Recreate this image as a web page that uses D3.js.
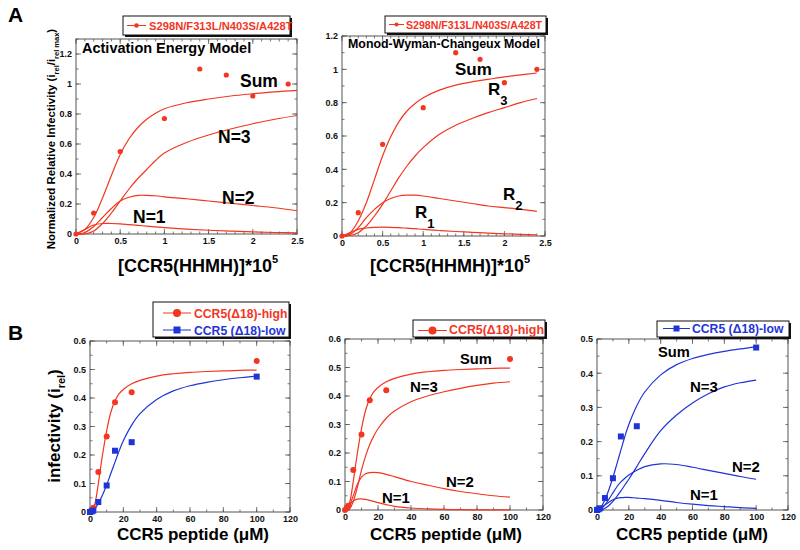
<!DOCTYPE html>
<html><head><meta charset="utf-8">
<script src="https://cdn.jsdelivr.net/npm/d3@7"></script>
<style>body{margin:0;background:#fff}svg{display:block}text{font-family:"Liberation Sans",Arial,Helvetica,sans-serif;font-weight:bold}</style>
</head><body><svg id="c" width="800" height="550"></svg>
<script>
// ---------- DATA ----------
// Panel A data (S298N/F313L/N403S/A428T)
const aPointX = [0, 0.2, 0.5, 1, 1.4, 1.7, 2, 2.4];
const aPointY = [0, 0.14, 0.55, 0.77, 1.1, 1.06, 0.92, 1.0];
// Activation energy model curves
const aeX    = [0,0.1,0.2,0.3,0.4,0.5,0.6,0.7,0.8,0.9,1.0,1.25,1.5,1.75,2.0,2.25,2.5];
const aeSum  = [0,0.03,0.11,0.24,0.39,0.53,0.635,0.71,0.765,0.805,0.835,0.875,0.9,0.92,0.935,0.948,0.958];
const aeN3   = [0,0,0.02,0.07,0.14,0.22,0.3,0.37,0.43,0.49,0.54,0.61,0.66,0.7,0.735,0.765,0.79];
const aeN2   = [0,0.01,0.05,0.11,0.17,0.22,0.245,0.257,0.258,0.255,0.248,0.235,0.22,0.205,0.19,0.175,0.155];
const aeN1   = [0,0.03,0.06,0.07,0.07,0.068,0.063,0.058,0.052,0.047,0.042,0.033,0.025,0.019,0.014,0.01,0.007];
// Monod-Wyman-Changeux model curves
const mwcX   = [0,0.1,0.2,0.3,0.4,0.5,0.6,0.7,0.8,0.9,1.0,1.2,1.4,1.6,1.8,2.0,2.2,2.4];
const mwcSum = [0,0.02,0.09,0.2,0.34,0.48,0.595,0.685,0.75,0.795,0.83,0.875,0.905,0.925,0.94,0.955,0.967,0.978];
const mwcR3  = [0,0.003,0.02,0.06,0.12,0.19,0.27,0.35,0.42,0.48,0.53,0.61,0.665,0.705,0.74,0.77,0.8,0.825];
const mwcR2  = [0,0.01,0.05,0.11,0.16,0.2,0.225,0.24,0.245,0.245,0.24,0.225,0.21,0.195,0.18,0.17,0.16,0.148];
const mwcR1  = [0,0.02,0.04,0.048,0.052,0.053,0.052,0.05,0.047,0.044,0.04,0.033,0.027,0.022,0.017,0.013,0.01,0.007];
// Panel B data
const bPointX  = [0, 1, 2, 5, 10, 15, 25, 100];
const highY    = [0, 0.005, 0.015, 0.14, 0.265, 0.385, 0.42, 0.53];
const lowY     = [0, 0.002, 0.005, 0.035, 0.093, 0.215, 0.245, 0.475];
const bX       = [0,1,2,3,5,7.5,10,12.5,15,17.5,20,25,30,40,50,60,70,80,90,100];
const highSum  = [0,0.005,0.015,0.03,0.1,0.2,0.285,0.35,0.39,0.415,0.43,0.45,0.462,0.477,0.485,0.49,0.493,0.495,0.497,0.498];
const highN3   = [0,0,0.002,0.006,0.03,0.08,0.14,0.19,0.23,0.26,0.285,0.322,0.347,0.38,0.4,0.415,0.427,0.437,0.445,0.45];
const highN2   = [0,0.003,0.01,0.02,0.05,0.09,0.115,0.127,0.131,0.132,0.131,0.125,0.117,0.1,0.087,0.075,0.065,0.057,0.05,0.045];
const highN1   = [0,0.005,0.013,0.02,0.032,0.038,0.039,0.037,0.034,0.03,0.026,0.019,0.013,0.007,0.004,0.002,0.001,0.0005,0.0002,0.0001];
const lowSum   = [0,0.002,0.006,0.012,0.03,0.06,0.095,0.135,0.175,0.215,0.25,0.305,0.345,0.395,0.425,0.443,0.455,0.464,0.471,0.477];
const lowN3    = [0,0,0,0.001,0.005,0.013,0.025,0.04,0.056,0.073,0.09,0.127,0.165,0.232,0.278,0.313,0.34,0.36,0.372,0.38];
const lowN2    = [0,0.001,0.003,0.006,0.015,0.032,0.05,0.068,0.082,0.093,0.102,0.116,0.127,0.135,0.133,0.125,0.116,0.107,0.098,0.09];
const lowN1    = [0,0.002,0.005,0.008,0.015,0.023,0.03,0.034,0.036,0.037,0.037,0.035,0.033,0.028,0.022,0.017,0.013,0.01,0.007,0.005];
// Tick labels
const aXTicks = [0, 0.5, 1, 1.5, 2, 2.5];
const a1YTicks = [0, 0.2, 0.4, 0.6, 0.8, 1, 1.2];
const a2YTicks = [0, 0.2, 0.4, 0.6, 0.8, 1, 1.2];
const bXTicks = [0, 20, 40, 60, 80, 100, 120];
const b6YTicks = [0, 0.1, 0.2, 0.3, 0.4, 0.5, 0.6];
const b5YTicks = [0, 0.1, 0.2, 0.3, 0.4, 0.5];
const legendA = "S298N/F313L/N403S/A428T";
const legendHigh = "CCR5(\u039418)-high";
const legendLow = "CCR5 (\u039418)-low";

// ---------- DRAWING ----------
const RED = "#f2361f", BLUE = "#1f33d6";
const svg = d3.select("#c");
const zip = (xs, ys) => xs.map((x, i) => [x, ys[i]]);
const CURVE = d3.curveCatmullRom.alpha(0.5);

function panel(cfg) {
  const x = d3.scaleLinear().domain(cfg.xd).range([cfg.l, cfg.r]);
  const y = d3.scaleLinear().domain(cfg.yd).range([cfg.b, cfg.t]);
  const g = svg.append("g");
  const tick = (vals, len) => {
    vals.forEach(v => {
      const px = x(v);
      g.append("line").attr("x1", px).attr("x2", px).attr("y1", cfg.b).attr("y2", cfg.b - len);
      g.append("line").attr("x1", px).attr("x2", px).attr("y1", cfg.t).attr("y2", cfg.t + len);
    });
  };
  const ytick = (vals, len) => {
    vals.forEach(v => {
      const py = y(v);
      g.append("line").attr("y1", py).attr("y2", py).attr("x1", cfg.l).attr("x2", cfg.l + len);
      g.append("line").attr("y1", py).attr("y2", py).attr("x1", cfg.r).attr("x2", cfg.r - len);
    });
  };
  tick(d3.range(cfg.xd[0], cfg.xd[1] + 1e-9, cfg.xminor), 2.5);
  tick(cfg.xt, 5);
  ytick(d3.range(cfg.yd[0], cfg.yd[1] + 1e-9, cfg.yminor), 2.5);
  ytick(cfg.yt, 5);
  g.selectAll("line").attr("stroke", "#555").attr("stroke-width", 0.8);
  g.append("rect").attr("x", cfg.l).attr("y", cfg.t).attr("width", cfg.r - cfg.l).attr("height", cfg.b - cfg.t)
    .attr("fill", "none").attr("stroke", "#555").attr("stroke-width", 1);
  const fmt = d => String(+d.toFixed(2));
  const ax = g.append("g").attr("transform", `translate(0,${cfg.b})`)
    .call(d3.axisBottom(x).tickValues(cfg.xt).tickFormat(fmt).tickSize(0).tickPadding(4));
  const ay = g.append("g").attr("transform", `translate(${cfg.l},0)`)
    .call(d3.axisLeft(y).tickValues(cfg.yt).tickFormat(fmt).tickSize(0).tickPadding(4));
  [ax, ay].forEach(a => {
    a.select(".domain").remove();
    a.selectAll("text").attr("font-size", 9).attr("font-family", '"Liberation Sans",Arial,sans-serif')
      .attr("font-weight", "bold").attr("fill", "#111");
  });
  const line = d3.line().x(d => x(d[0])).y(d => y(d[1])).curve(CURVE);
  (cfg.curves || []).forEach(c => {
    g.append("path").attr("d", line(c.data)).attr("fill", "none").attr("stroke", c.color || cfg.color).attr("stroke-width", 1.2);
  });
  (cfg.points || []).forEach(p => {
    const pts = p.data;
    if (p.shape === "square") {
      g.selectAll(null).data(pts).enter().append("rect")
        .attr("x", d => x(d[0]) - p.size / 2).attr("y", d => y(d[1]) - p.size / 2)
        .attr("width", p.size).attr("height", p.size).attr("fill", p.color);
    } else {
      g.selectAll(null).data(pts).enter().append("circle")
        .attr("cx", d => x(d[0])).attr("cy", d => y(d[1])).attr("r", p.size).attr("fill", p.color);
    }
  });
  return {x, y, g};
}

function text(x, y, str, size, opts = {}) {
  return svg.append("text").attr("x", x).attr("y", y).attr("font-size", size)
    .attr("fill", opts.fill || "#000").attr("text-anchor", opts.anchor || "start").text(str);
}
function legendBox(x, y, w, h) {
  svg.append("rect").attr("x", x + 2).attr("y", y + 2).attr("width", w).attr("height", h).attr("fill", "#111");
  svg.append("rect").attr("x", x).attr("y", y).attr("width", w).attr("height", h).attr("fill", "#fff")
    .attr("stroke", "#111").attr("stroke-width", 1);
}
function legendEntry(x1, x2, yy, color, shape, size, label, tx, ty, fs) {
  svg.append("line").attr("x1", x1).attr("x2", x2).attr("y1", yy).attr("y2", yy).attr("stroke", color).attr("stroke-width", 1);
  const cx = (x1 + x2) / 2;
  if (shape === "square") svg.append("rect").attr("x", cx - size / 2).attr("y", yy - size / 2).attr("width", size).attr("height", size).attr("fill", color);
  else svg.append("circle").attr("cx", cx).attr("cy", yy).attr("r", size).attr("fill", color);
  text(tx, ty, label, fs, {fill: color});
}

// ---- Panel A1 ----
panel({l: 76, r: 297, t: 39, b: 234, xd: [0, 2.5], yd: [0, 1.3], xt: aXTicks, yt: a1YTicks,
  xminor: 0.1, yminor: 0.1, color: RED,
  curves: [{data: zip(aeX, aeSum)}, {data: zip(aeX, aeN3)}, {data: zip(aeX, aeN2)}, {data: zip(aeX, aeN1)}],
  points: [{data: zip(aPointX, aPointY), color: RED, shape: "circle", size: 2.6}]});
// ---- Panel A2 ----
panel({l: 342, r: 545, t: 36, b: 236, xd: [0, 2.5], yd: [0, 1.2], xt: aXTicks, yt: a2YTicks,
  xminor: 0.1, yminor: 0.1, color: RED,
  curves: [{data: zip(mwcX, mwcSum)}, {data: zip(mwcX, mwcR3)}, {data: zip(mwcX, mwcR2)}, {data: zip(mwcX, mwcR1)}],
  points: [{data: zip(aPointX, aPointY), color: RED, shape: "circle", size: 2.6}]});
// ---- Panel B1 ----
panel({l: 90, r: 290, t: 341, b: 512, xd: [0, 120], yd: [0, 0.6], xt: bXTicks, yt: b6YTicks,
  xminor: 10, yminor: 0.05, color: RED,
  curves: [{data: zip(bX, highSum), color: RED}, {data: zip(bX, lowSum), color: BLUE}],
  points: [{data: zip(bPointX, highY), color: RED, shape: "circle", size: 3},
           {data: zip(bPointX, lowY), color: BLUE, shape: "square", size: 6}]});
// ---- Panel B2 ----
panel({l: 345, r: 543, t: 339, b: 510, xd: [0, 120], yd: [0, 0.6], xt: bXTicks, yt: b6YTicks,
  xminor: 10, yminor: 0.05, color: RED,
  curves: [{data: zip(bX, highSum)}, {data: zip(bX, highN3)}, {data: zip(bX, highN2)}, {data: zip(bX, highN1)}],
  points: [{data: zip(bPointX, highY), color: RED, shape: "circle", size: 3}]});
// ---- Panel B3 ----
panel({l: 597, r: 788, t: 339, b: 510, xd: [0, 120], yd: [0, 0.5], xt: bXTicks, yt: b5YTicks,
  xminor: 10, yminor: 0.05, color: BLUE,
  curves: [{data: zip(bX, lowSum)}, {data: zip(bX, lowN3)}, {data: zip(bX, lowN2)}, {data: zip(bX, lowN1)}],
  points: [{data: zip(bPointX, lowY), color: BLUE, shape: "square", size: 6}]});

// ---- Legends ----
legendBox(123, 16, 167, 19);
legendEntry(127, 146, 25.5, RED, "circle", 2.3, legendA, 149, 30, 11.2);
legendBox(385, 16, 161, 17);
legendEntry(389, 404, 24.5, RED, "circle", 2, legendA, 406, 29, 10.6);
legendBox(153, 302, 136, 35);
legendEntry(163, 191, 313, RED, "circle", 4, legendHigh, 194, 318, 12.2);
legendEntry(163, 191, 330, BLUE, "square", 7, legendLow, 194, 334.5, 12.2);
legendBox(413, 320, 132, 17);
legendEntry(418, 447, 330.5, RED, "circle", 4, legendHigh, 449, 334, 12.4);
legendBox(657, 321, 132, 16);
legendEntry(663, 690, 328.5, BLUE, "square", 6, legendLow, 692, 333, 12.2);

// ---- Panel letters ----
text(8, 22, "A", 21);
text(8, 340, "B", 21);

// ---- Titles / annotations A ----
text(82, 53, "Activation Energy Model", 14.5);
text(348, 48, "Monod-Wyman-Changeux Model", 12.4);
text(240, 87, "Sum", 17.5);
text(218, 143, "N=3", 17.5);
text(222, 204, "N=2", 17.5);
text(133, 223, "N=1", 17.5);
text(455, 75, "Sum", 17);
function rLabel(x, y, sub) {
  const t = text(x, y, "R", 17);
  t.append("tspan").attr("font-size", 13).attr("dy", 10).text(sub);
}
rLabel(488, 95, "3");
rLabel(503, 200, "2");
rLabel(415, 218, "1");

function xlabA(cx) {
  const t = text(cx, 272, "[CCR5(HHMH)]*10", 18, {anchor: "middle"});
  t.append("tspan").attr("font-size", 11).attr("dy", -9).text("5");
}
xlabA(198);
xlabA(450);

{
  const t = svg.append("text").attr("transform", "translate(55,139) rotate(-90)")
    .attr("text-anchor", "middle").attr("font-size", 11.4).attr("fill", "#000");
  t.append("tspan").text("Normalized Relative Infectivity (i");
  t.append("tspan").attr("font-size", 7.5).attr("dy", 4).text("rel");
  t.append("tspan").attr("dy", -4).text("/i");
  t.append("tspan").attr("font-size", 7.5).attr("dy", 4).text("rel max");
  t.append("tspan").attr("dy", -4).text(")");
}

// ---- B annotations ----
text(460, 364, "Sum", 14.7);
text(410, 392, "N=3", 15);
text(446, 487, "N=2", 15);
text(382, 503, "N=1", 15);
text(658, 357, "Sum", 14.7);
text(690, 392, "N=3", 15);
text(732, 472, "N=2", 15);
text(690, 500, "N=1", 15);

text(193, 540, "CCR5 peptide (\u03BCM)", 17, {anchor: "middle"});
text(446, 540, "CCR5 peptide (\u03BCM)", 17, {anchor: "middle"});
text(692, 540, "CCR5 peptide (\u03BCM)", 17, {anchor: "middle"});

{
  const t = svg.append("text").attr("transform", "translate(60,426) rotate(-90)")
    .attr("text-anchor", "middle").attr("font-size", 17).attr("fill", "#000");
  t.append("tspan").text("infectivity (i");
  t.append("tspan").attr("font-size", 11).attr("dy", 5).text("rel");
  t.append("tspan").attr("dy", -5).text(")");
}
</script></body></html>
